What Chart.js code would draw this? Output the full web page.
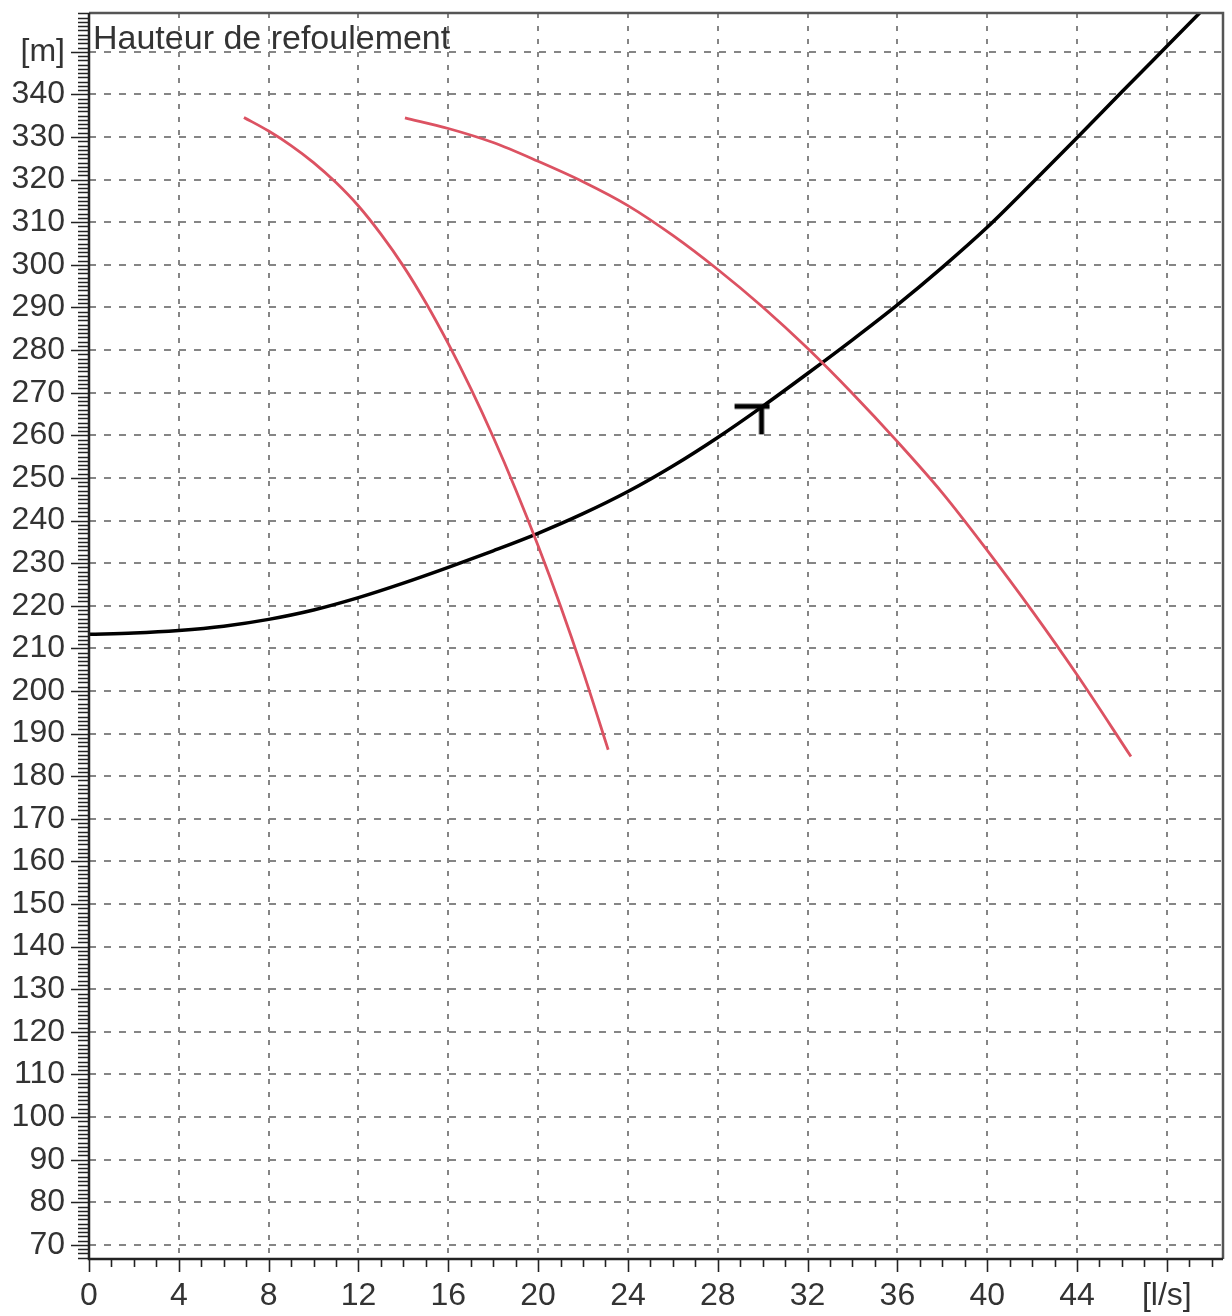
<!DOCTYPE html>
<html>
<head>
<meta charset="utf-8">
<title>Hauteur de refoulement</title>
<script src="https://cdn.jsdelivr.net/npm/chart.js@4.4.1/dist/chart.umd.min.js"></script>
<style>
  html, body { margin: 0; padding: 0; background: #fff; }
  #wrap { width: 1232px; height: 1316px; }
</style>
</head>
<body>
<div id="wrap"><canvas id="chart"></canvas></div>
<script>
// Flow in l/s, head in m
const systemFlow = [0, 2, 4, 6, 8, 10, 12, 14, 16, 18, 20, 22, 24, 26, 28, 30, 32, 34, 36, 38, 40, 42, 44, 46, 48, 50];
const systemHead = [213.3, 213.6, 214.2, 215.2, 216.8, 219.0, 221.9, 225.3, 229.0, 232.9, 237.0, 241.6, 246.8, 252.8,
  259.5, 266.8, 274.5, 282.4, 290.6, 299.4, 308.8, 319.2, 329.8, 340.6, 351.3, 362.0];

const pumpAFlow = [6.9, 8, 9, 10, 11, 12, 13, 14, 15, 16, 17, 18, 19, 20, 21, 22, 23, 23.12];
const pumpAHead = [334.6, 331.4, 328.0, 324.0, 319.3, 313.8, 307.2, 299.7, 291.1, 281.5, 271.0, 259.6, 247.3, 234.1,
  219.9, 204.6, 188.2, 186.2];

const pumpBFlow = [14.07, 16, 18, 20, 22, 24, 26, 28, 30, 32, 34, 36, 38, 40, 42, 44, 46.4];
const pumpBHead = [334.5, 332.0, 328.7, 324.3, 319.5, 313.9, 306.9, 298.9, 290.1, 280.4, 269.8, 258.5, 246.5, 233.0,
  218.8, 203.8, 184.6];

// operating point marker
const dutyFlow = [29.95];
const dutyHead = [266.8];

const flowRange = [0, 50.5];
const headRange = [66.7, 359.1];
const flowStep = 4;
const headStep = 10;
const flowUnit = '[l/s]';
const headUnit = '[m]';
const headTitle = 'Hauteur de refoulement';

// where the plot frame sits on the 1232x1316 canvas
const PLOT = { left: 89, top: 13, right: 1223, bottom: 1259 };

const TEXT = '#333';
const GRID = '#858585';
const SANS = '"Liberation Sans", Arial, sans-serif';
const LABEL_SIZE = 32;

function toPoints(xs, ys) {
  return xs.map((x, i) => ({ x: x, y: ys[i] }));
}

// the little "T" drawn on the system curve
function makeMarker() {
  const c = document.createElement('canvas');
  c.width = 64;
  c.height = 64;
  const g = c.getContext('2d');
  g.fillStyle = '#000';
  g.fillRect(32 - 27, 32 - 2.5, 35, 5);
  g.fillRect(32 - 2.5, 32, 5, 28);
  return c;
}

// minor/major tick marks, frame, flow unit and the axis caption
const frame = {
  id: 'frame',
  afterDraw(chart) {
    const { ctx, chartArea: a, scales: { x, y } } = chart;
    ctx.save();
    ctx.strokeStyle = '#222';

    ctx.lineWidth = 1.6;
    ctx.beginPath();
    for (let v = Math.ceil(x.min); v <= x.max; v++) {
      const px = Math.round(x.getPixelForValue(v)) + 0.5;
      const len = v % flowStep === 0 ? 13 : 8;
      ctx.moveTo(px, a.bottom);
      ctx.lineTo(px, a.bottom + len);
    }
    for (let v = Math.ceil(y.min); v <= y.max; v++) {
      const py = Math.round(y.getPixelForValue(v)) + 0.5;
      const len = v % headStep === 0 ? 18 : 11;
      ctx.moveTo(a.left, py);
      ctx.lineTo(a.left - len, py);
    }
    ctx.stroke();

    ctx.lineWidth = 2.5;
    ctx.strokeStyle = '#555';
    ctx.beginPath();
    ctx.moveTo(a.left, a.top);
    ctx.lineTo(a.right, a.top);
    ctx.lineTo(a.right, a.bottom);
    ctx.stroke();

    ctx.strokeStyle = '#222';
    ctx.beginPath();
    ctx.moveTo(a.left, a.top);
    ctx.lineTo(a.left, a.bottom);
    ctx.lineTo(a.right, a.bottom);
    ctx.stroke();

    ctx.fillStyle = TEXT;
    ctx.textBaseline = 'middle';
    ctx.textAlign = 'center';
    ctx.font = LABEL_SIZE + 'px ' + SANS;
    const lastFlow = x.ticks[x.ticks.length - 1].value;
    ctx.fillText(flowUnit, x.getPixelForValue(lastFlow), a.bottom + 37);

    ctx.textAlign = 'left';
    ctx.font = '34px ' + SANS;
    ctx.fillText(headTitle, a.left + 4, a.top + 27);
    ctx.restore();
  }
};

new Chart(document.getElementById('chart'), {
  type: 'line',
  data: {
    datasets: [
      {
        data: toPoints(pumpAFlow, pumpAHead),
        borderColor: '#dc5262',
        borderWidth: 2.8,
        pointRadius: 0,
        cubicInterpolationMode: 'monotone'
      },
      {
        data: toPoints(pumpBFlow, pumpBHead),
        borderColor: '#dc5262',
        borderWidth: 2.8,
        pointRadius: 0,
        cubicInterpolationMode: 'monotone'
      },
      {
        data: toPoints(systemFlow, systemHead),
        borderColor: '#000',
        borderWidth: 3.5,
        pointRadius: 0,
        cubicInterpolationMode: 'monotone'
      },
      {
        data: toPoints(dutyFlow, dutyHead),
        showLine: false,
        pointStyle: makeMarker(),
        pointRadius: 32
      }
    ]
  },
  options: {
    responsive: true,
    maintainAspectRatio: false,
    animation: false,
    layout: {
      // the marker's big point radius would otherwise push the frame inwards
      autoPadding: false,
      padding: { top: PLOT.top, right: 1232 - PLOT.right, left: 0, bottom: 0 }
    },
    plugins: {
      legend: { display: false },
      tooltip: { enabled: false }
    },
    scales: {
      x: {
        type: 'linear',
        min: flowRange[0],
        max: flowRange[1],
        grid: { color: GRID, lineWidth: 2, drawTicks: false },
        border: { display: false, dash: [5, 8] },
        ticks: {
          stepSize: flowStep,
          includeBounds: false,
          autoSkip: false,
          maxRotation: 0,
          padding: 18,
          color: TEXT,
          font: { family: SANS, size: LABEL_SIZE },
          // the unit takes the place of the last number, drawn by the frame plugin
          callback: (v, i, ticks) => (i === ticks.length - 1 ? '' : v)
        },
        afterFit: (s) => {
          s.height = 1316 - PLOT.bottom;
          s.paddingLeft = 0;
          s.paddingRight = 0;
        }
      },
      y: {
        type: 'linear',
        min: headRange[0],
        max: headRange[1],
        grid: { color: GRID, lineWidth: 2, drawTicks: false },
        border: { display: false, dash: [7, 8] },
        ticks: {
          stepSize: headStep,
          includeBounds: false,
          autoSkip: false,
          padding: 24,
          color: TEXT,
          font: { family: SANS, size: LABEL_SIZE, lineHeight: 0.02 },
          callback: (v, i, ticks) => (i === ticks.length - 1 ? headUnit : v)
        },
        afterFit: (s) => {
          s.width = PLOT.left;
          s.paddingTop = 0;
          s.paddingBottom = 0;
        }
      }
    }
  },
  plugins: [frame]
});
</script>
</body>
</html>
